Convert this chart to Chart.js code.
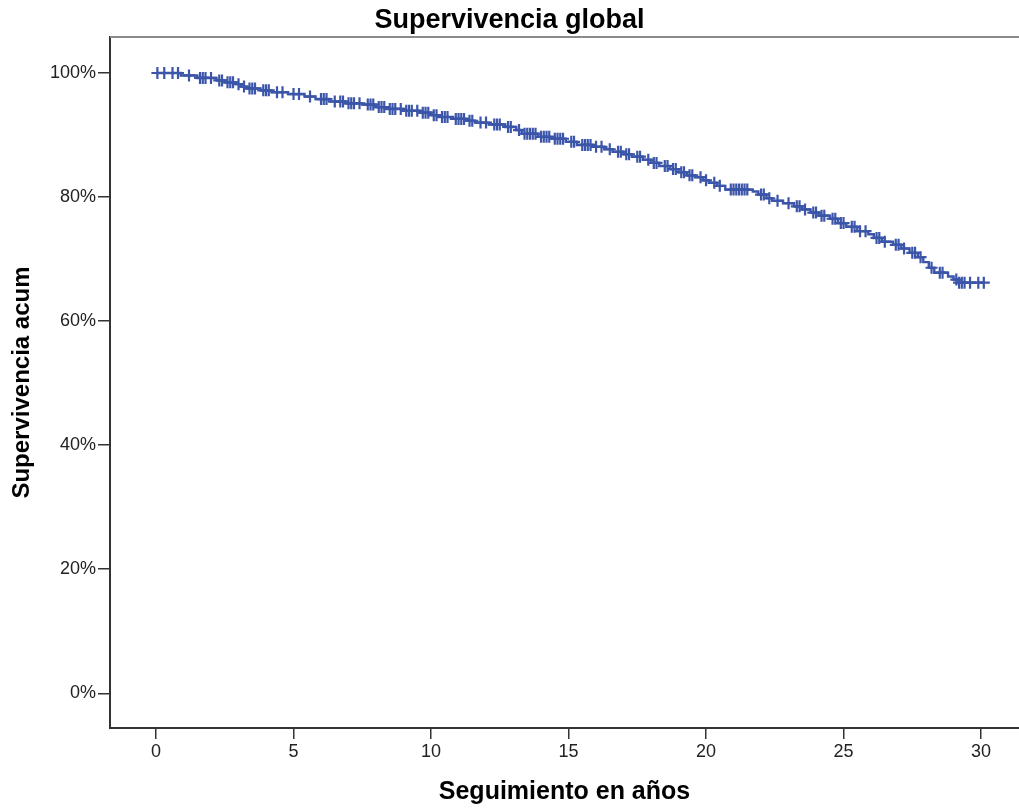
<!DOCTYPE html>
<html lang="es">
<head>
<meta charset="utf-8">
<title>Supervivencia global</title>
<script src="https://cdn.jsdelivr.net/npm/chart.js@4.4.1/dist/chart.umd.min.js"></script>
<style>
  html, body { margin: 0; padding: 0; background: #fff; }
  #wrap { width: 1019px; height: 809px; }
</style>
</head>
<body>
<div id="wrap"><canvas id="km"></canvas></div>
<script>
// ===== DATA =====
// Kaplan-Meier steps: time of each drop (years) and cumulative survival after it (%)
const eventTimes = [0, 0.9, 1.5, 2.2, 2.5, 2.9, 3.1, 3.3, 3.8, 4.2, 4.8, 5.4, 5.8, 6.3, 6.9, 7.5, 8.0, 8.4, 9.0, 9.6,
  10.0, 10.3, 10.8, 11.3, 11.6, 12.1, 12.7, 13.1, 13.3, 13.9, 14.4, 14.9, 15.3, 15.9, 16.3, 16.6, 17.0, 17.3, 17.7,
  18.0, 18.3, 18.7, 19.0, 19.3, 19.6, 19.9, 20.1, 20.4, 20.7, 21.7, 21.9, 22.2, 22.4, 22.8, 23.2, 23.5, 23.8, 24.1,
  24.5, 24.8, 25.1, 25.5, 25.9, 26.1, 26.4, 26.8, 27.1, 27.4, 27.7, 27.9, 28.1, 28.3, 28.8, 29.0, 29.2];
const survivalPct = [100, 99.6, 99.2, 98.8, 98.5, 98.2, 97.8, 97.5, 97.2, 96.9, 96.6, 96.2, 95.8, 95.4, 95.1, 94.9, 94.5, 94.2, 93.9, 93.6,
  93.2, 92.9, 92.6, 92.3, 92.0, 91.7, 91.3, 90.8, 90.2, 89.7, 89.4, 88.9, 88.4, 88.1, 87.7, 87.3, 86.9, 86.5, 86.0,
  85.5, 85.0, 84.5, 84.0, 83.5, 83.2, 82.7, 82.3, 81.8, 81.2, 80.9, 80.4, 79.8, 79.4, 79.0, 78.5, 78.0, 77.5, 77.0,
  76.5, 75.8, 75.2, 74.5, 74.0, 73.4, 72.8, 72.3, 71.7, 71.0, 70.3, 69.5, 68.6, 67.8, 67.2, 66.7, 66.2];
// Censored follow-up times (years)
const censorTimes = [0.05, 0.3, 0.6, 0.8, 1.2, 1.6, 1.7, 1.8, 2.0, 2.3, 2.4, 2.6, 2.7, 2.8, 3.0, 3.2, 3.4, 3.5, 3.6,
  3.9, 4.0, 4.1, 4.4, 4.6, 5.0, 5.2, 5.6, 6.0, 6.1, 6.2, 6.5, 6.7, 6.8, 7.0, 7.1, 7.2, 7.4, 7.7, 7.8, 7.9, 8.1, 8.2,
  8.3, 8.5, 8.6, 8.7, 8.9, 9.1, 9.2, 9.3, 9.5, 9.7, 9.8, 9.9, 10.1, 10.2, 10.4, 10.5, 10.6, 10.9, 11.0, 11.1, 11.2,
  11.4, 11.5, 11.8, 12.0, 12.3, 12.4, 12.5, 12.8, 12.9, 13.2, 13.4, 13.5, 13.6, 13.7, 13.8, 14.0, 14.1, 14.2, 14.3,
  14.5, 14.6, 14.7, 14.8, 15.1, 15.2, 15.5, 15.6, 15.7, 15.8, 16.0, 16.2, 16.5, 16.8, 16.9, 17.1, 17.2, 17.5, 17.6,
  17.9, 18.1, 18.2, 18.5, 18.6, 18.8, 18.9, 19.1, 19.2, 19.4, 19.5, 19.8, 20.0, 20.3, 20.5, 20.9, 21.0, 21.1, 21.2,
  21.3, 21.4, 21.5, 22.0, 22.1, 22.3, 22.6, 23.0, 23.3, 23.4, 23.6, 23.9, 24.0, 24.2, 24.3, 24.6, 24.7, 24.9, 25.0,
  25.3, 25.4, 25.6, 25.8, 26.2, 26.3, 26.5, 26.9, 27.0, 27.2, 27.5, 27.6, 27.8, 28.2, 28.5, 28.6, 29.1, 29.2, 29.3,
  29.4, 29.6, 29.9, 30.1];
const xTicks = [0, 5, 10, 15, 20, 25, 30];
const yTicks = [0, 20, 40, 60, 80, 100];

const BLUE = '#3b55a9';
const FONT = "'Liberation Sans', Arial, sans-serif";

// survival level in force at time t (last step at or before t)
function survivalAt(t) {
    let s = survivalPct[0];
    for (let i = 0; i < eventTimes.length; i++) {
        if (eventTimes[i] <= t) s = survivalPct[i];
    }
    return s;
}

const lastCensor = censorTimes[censorTimes.length - 1];
const curve = eventTimes.map((t, i) => ({ x: t, y: survivalPct[i] }));
curve.push({ x: lastCensor, y: survivalAt(lastCensor) });
const censored = censorTimes.map(t => ({ x: t, y: survivalAt(t) }));

// gray frame line along the top of the plot area
const topFrame = {
    id: 'topFrame',
    afterDraw(chart) {
        const { ctx, chartArea } = chart;
        ctx.save();
        ctx.strokeStyle = '#8a8a8a';
        ctx.lineWidth = 2;
        ctx.beginPath();
        ctx.moveTo(chartArea.left, chartArea.top);
        ctx.lineTo(chartArea.right, chartArea.top);
        ctx.stroke();
        ctx.restore();
    }
};

new Chart(document.getElementById('km').getContext('2d'), {
    type: 'line',
    data: {
        datasets: [
            {
                label: 'Supervivencia',
                data: curve,
                stepped: 'before',
                borderColor: BLUE,
                borderWidth: 2.4,
                pointRadius: 0,
                fill: false,
                order: 2
            },
            {
                label: 'Censurado',
                data: censored,
                showLine: false,
                pointStyle: 'cross',
                pointRadius: 6,
                pointBorderWidth: 2.2,
                pointBorderColor: BLUE,
                pointBackgroundColor: BLUE,
                order: 1
            }
        ]
    },
    options: {
        responsive: true,
        maintainAspectRatio: false,
        animation: false,
        layout: { autoPadding: false, padding: 0 },
        plugins: {
            legend: { display: false },
            tooltip: { enabled: false },
            title: {
                display: true,
                text: 'Supervivencia global',
                color: '#000',
                font: { family: FONT, size: 27, weight: 'bold', lineHeight: 1.2 },
                padding: { top: 4, bottom: 0.6 }
            }
        },
        scales: {
            x: {
                type: 'linear',
                min: -1.673,
                max: 31.38,
                afterFit(scale) { scale.height = 81; },
                afterBuildTicks(scale) { scale.ticks = xTicks.map(v => ({ value: v })); },
                grid: { drawOnChartArea: false, color: '#333', lineWidth: 1.5, tickLength: 11 },
                border: { display: true, color: '#333', width: 2 },
                ticks: { color: '#222', padding: 2, maxRotation: 0, font: { family: FONT, size: 18 } },
                title: {
                    display: true,
                    text: 'Seguimiento en años',
                    color: '#000',
                    font: { family: FONT, size: 25, weight: 'bold', lineHeight: 1.2 },
                    padding: { top: 2, bottom: 2 }
                }
            },
            y: {
                type: 'linear',
                min: -5.6,
                max: 105.8,
                afterFit(scale) { scale.width = 110; },
                afterBuildTicks(scale) { scale.ticks = yTicks.map(v => ({ value: v })); },
                grid: { drawOnChartArea: false, color: '#333', lineWidth: 1.5, tickLength: 12 },
                border: { display: true, color: '#333', width: 2 },
                ticks: {
                    color: '#222', padding: 2,
                    font: { family: FONT, size: 18 },
                    callback: v => v + '%'
                },
                title: {
                    display: true,
                    text: 'Supervivencia acum',
                    color: '#000',
                    font: { family: FONT, size: 24, weight: 'bold', lineHeight: 1.2 },
                    padding: { top: 8, bottom: 0 }
                }
            }
        }
    },
    plugins: [topFrame]
});
</script>
</body>
</html>
